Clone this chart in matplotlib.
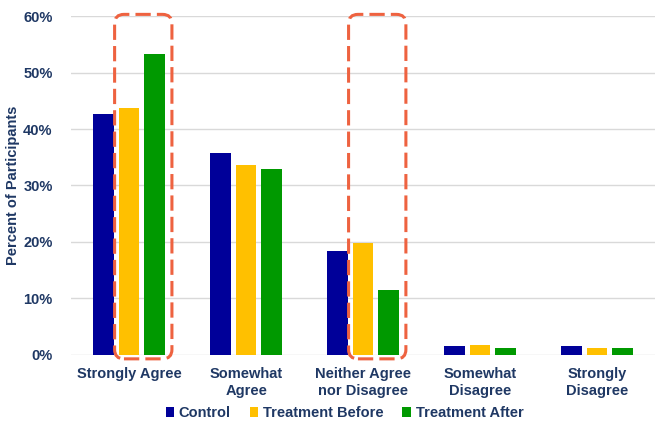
import numpy as np
import matplotlib
matplotlib.use('Agg')
import matplotlib.pyplot as plt
from matplotlib.patches import FancyBboxPatch

plt.rcParams['font.family'] = ['Liberation Sans', 'DejaVu Sans']

CATEGORIES = ['Strongly Agree', 'Somewhat\nAgree', 'Neither Agree\nnor Disagree',
              'Somewhat\nDisagree', 'Strongly\nDisagree']
CONTROL = [42.7, 35.8, 18.4, 1.5, 1.5]
TREAT_BEFORE = [43.7, 33.6, 19.9, 1.7, 1.2]
TREAT_AFTER = [53.2, 32.9, 11.5, 1.2, 1.2]
SERIES_NAMES = ['Control', 'Treatment Before', 'Treatment After']
HIGHLIGHT = [0, 2]  # categories boxed around the treatment bars

NAVY = '#1F3864'
COLORS = ['#000099', '#FFC000', '#009900']
BOX_COLOR = '#EE6240'
FS = 10.5


def main():
    fig = plt.figure(figsize=(6.55, 4.23), dpi=100)
    ax = fig.add_axes([0.108, 0.161, 0.893, 0.801])

    x = np.arange(len(CATEGORIES))
    step = 0.218
    width = 0.175
    for i, (vals, name) in enumerate(zip([CONTROL, TREAT_BEFORE, TREAT_AFTER], SERIES_NAMES)):
        ax.bar(x + (i - 1) * step, vals, width, color=COLORS[i], label=name, zorder=3)

    ax.set_xlim(-0.5, len(CATEGORIES) - 0.5)
    ax.set_ylim(0, 60)
    ax.set_yticks(range(0, 61, 10))
    ax.set_yticklabels(['{}%'.format(v) for v in range(0, 61, 10)])
    ax.set_xticks(x)
    ax.set_xticklabels(CATEGORIES, linespacing=1.25)
    ax.grid(axis='y', color='#D9D9D9', linewidth=1, zorder=0)
    for s in ax.spines.values():
        s.set_visible(False)
    ax.tick_params(length=0, colors=NAVY, labelsize=FS)
    ax.tick_params(axis='x', pad=9)
    ax.tick_params(axis='y', pad=13)
    for lbl in ax.get_xticklabels() + ax.get_yticklabels():
        lbl.set_fontweight('bold')
        lbl.set_color(NAVY)
    ax.set_ylabel('Percent of Participants', fontsize=FS, fontweight='bold',
                  color=NAVY)
    ax.yaxis.set_label_coords(-0.087, 0.5)

    # dashed rounded boxes around the before/after bars
    fig.canvas.draw()
    px = ax.transData.transform([[0, 0], [1, 1]])
    aspect = (1 / (px[1, 1] - px[0, 1])) / (1 / (px[1, 0] - px[0, 0]))
    for c in HIGHLIGHT:
        x0 = c - 0.125
        x1 = c + 0.365
        y0 = -0.7
        y1 = 60.3
        box = FancyBboxPatch((x0, y0), x1 - x0, y1 - y0,
                             boxstyle='round,pad=0,rounding_size=0.08',
                             mutation_aspect=aspect,
                             fill=False, edgecolor=BOX_COLOR, linewidth=2.2,
                             linestyle=(0, (5, 2)), clip_on=False, zorder=4)
        ax.add_patch(box)

    leg = ax.legend(loc='center', bbox_to_anchor=(0.468, -0.172), ncol=3,
                    frameon=False, handlelength=0.6, handleheight=0.6,
                    handletextpad=0.3, columnspacing=1.3, fontsize=FS,
                    borderpad=0)
    for t in leg.get_texts():
        t.set_color(NAVY)
        t.set_fontweight('bold')

    fig.savefig('out.png', dpi=100)


if __name__ == '__main__':
    main()
